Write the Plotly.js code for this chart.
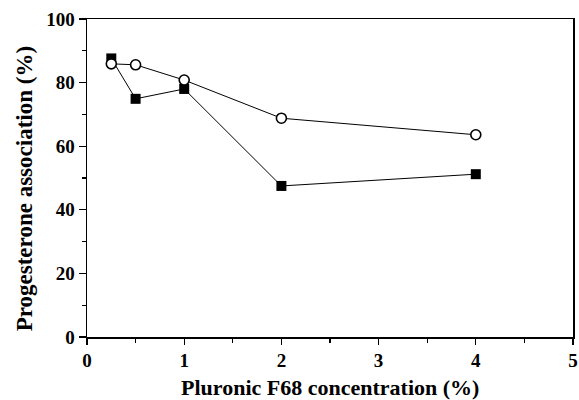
<!DOCTYPE html>
<html><head><meta charset="utf-8">
<script src="https://cdn.plot.ly/plotly-3.0.1.min.js"></script>
<style>html,body{margin:0;padding:0;background:#fff}#c{width:579px;height:400px}</style>
</head><body><div id="c"></div>
<script>
const concentration = [0.25, 0.5, 1, 2, 4];
const filledSquares = [87.6, 74.9, 78.0, 47.5, 51.2];
const openCircles = [85.9, 85.6, 80.8, 68.8, 63.6];
const xTitle = 'Pluronic F68 concentration (%)';
const yTitle = 'Progesterone association (%)';

const fnt = {family: '"Liberation Serif", "Times New Roman", serif', color: '#000', weight: 'bold'};

const traces = [
  {x: concentration, y: filledSquares, mode: 'lines+markers', type: 'scatter',
   line: {color: '#000', width: 1},
   marker: {symbol: 'square', size: 10, color: '#000'}},
  {x: concentration, y: openCircles, mode: 'lines+markers', type: 'scatter',
   line: {color: '#000', width: 1},
   marker: {symbol: 'circle', size: 10, color: '#fff', line: {color: '#000', width: 1.6}}}
];

const layout = {
  width: 579, height: 400,
  margin: {l: 87, r: 6, t: 19, b: 63},
  showlegend: false,
  paper_bgcolor: '#fff', plot_bgcolor: '#fff',
  xaxis: {range: [0, 5], tickvals: [0,1,2,3,4,5], ticks: 'outside', ticklen: 6, tickwidth: 1.3, tickcolor: '#000',
    minor: {dtick: 0.5, ticks: 'outside', ticklen: 4, tickwidth: 1.3, tickcolor: '#000', showgrid: false},
    showline: true, linecolor: '#000', linewidth: 1.5, mirror: true, showgrid: false, zeroline: false,
    tickfont: Object.assign({size: 19}, fnt)},
  yaxis: {range: [0, 100], tickvals: [0,20,40,60,80,100], ticks: 'outside', ticklen: 7, tickwidth: 1.3, tickcolor: '#000',
    minor: {dtick: 10, ticks: 'outside', ticklen: 4, tickwidth: 1.3, tickcolor: '#000', showgrid: false},
    showline: true, linecolor: '#000', linewidth: 1.5, mirror: true, showgrid: false, zeroline: false,
    tickfont: Object.assign({size: 19}, fnt)},
  annotations: [
    {text: xTitle, xref: 'paper', yref: 'paper', x: 0.5, y: -0.158,
     xanchor: 'center', yanchor: 'middle', showarrow: false,
     font: Object.assign({size: 22}, fnt)},
    {text: yTitle, textangle: -90, xref: 'paper', yref: 'paper',
     x: -0.128, y: 0.467, xanchor: 'center', yanchor: 'middle', showarrow: false,
     font: Object.assign({size: 23}, fnt)}]
};

Plotly.newPlot('c', traces, layout, {displayModeBar: false, staticPlot: true});
</script></body></html>
